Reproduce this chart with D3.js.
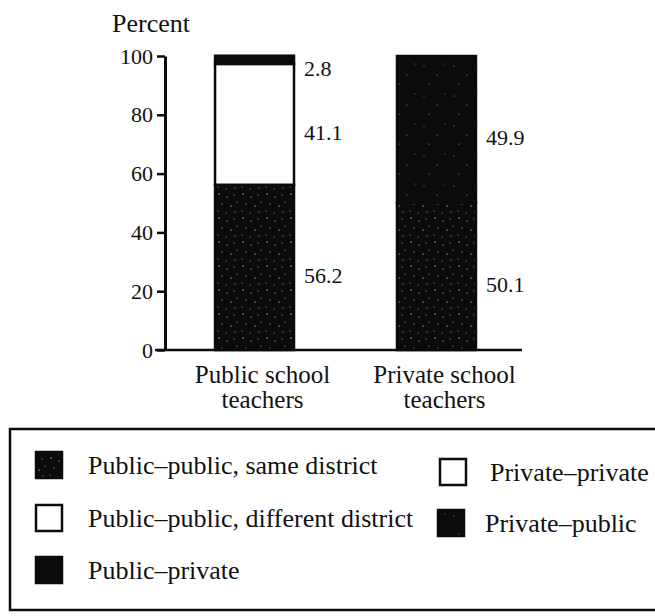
<!DOCTYPE html>
<html>
<head>
<meta charset="utf-8">
<script src="https://cdn.jsdelivr.net/npm/d3@7"></script>
<style>
  html, body { margin: 0; padding: 0; background: #fff; }
  svg { display: block; }
</style>
</head>
<body>
<svg id="chart" width="655" height="616"></svg>
<script>
// Teacher movers by type of move, percent of each teacher group
const categories = ["Public school teachers", "Private school teachers"];
const categoryLines = [["Public school", "teachers"], ["Private school", "teachers"]];
const seriesKeys = ["sameDistrict", "differentDistrict", "publicPrivate", "privatePrivate", "privatePublic"];
const seriesNames = [
  "Public\u2013public, same district",
  "Public\u2013public, different district",
  "Public\u2013private",
  "Private\u2013private",
  "Private\u2013public"
];
const sameDistrict      = [56.2, 0];
const differentDistrict = [41.1, 0];
const publicPrivate     = [2.8, 0];
const privatePrivate    = [0, 50.1];
const privatePublic     = [0, 49.9];
const yTicks = [0, 20, 40, 60, 80, 100];

const FONT = "'Liberation Serif', Tinos, 'Times New Roman', Times, 'DejaVu Serif', serif";

const seriesValues = { sameDistrict, differentDistrict, publicPrivate, privatePrivate, privatePublic };
const table = categories.map((c, i) => {
  const row = { category: c };
  seriesKeys.forEach(k => { row[k] = seriesValues[k][i]; });
  return row;
});

const svg = d3.select("#chart").style("font-family", FONT);
const defs = svg.append("defs");

// Dark print textures: heavy speckle and light speckle
function speckle(id, dots, size) {
  const p = defs.append("pattern").attr("id", id)
    .attr("patternUnits", "userSpaceOnUse").attr("width", size).attr("height", size);
  p.append("rect").attr("width", size).attr("height", size).attr("fill", "#0b0b0b");
  dots.forEach(([dx, dy, r, c]) => p.append("circle").attr("cx", dx).attr("cy", dy).attr("r", r).attr("fill", c));
}
speckle("heavy", [[3,2,0.8,"#9a9a9a"],[11,5,0.6,"#cfcfcf"],[18,3,0.7,"#7a7a7a"],[6,12,0.6,"#bdbdbd"],
  [15,14,0.8,"#8a8a8a"],[21,10,0.5,"#e0e0e0"],[2,19,0.6,"#a8a8a8"],[10,21,0.7,"#6d6d6d"],[19,20,0.6,"#cccccc"]], 24);
speckle("light", [[4,6,0.6,"#8c8c8c"],[17,15,0.5,"#b5b5b5"],[25,4,0.5,"#7a7a7a"],[9,24,0.6,"#a0a0a0"]], 30);

const barFill = {
  sameDistrict: "url(#heavy)", differentDistrict: "#ffffff", publicPrivate: "#0b0b0b",
  privatePrivate: "url(#heavy)", privatePublic: "url(#light)"
};
const keyFill = {
  sameDistrict: "url(#heavy)", differentDistrict: "#ffffff", publicPrivate: "#0b0b0b",
  privatePrivate: "#ffffff", privatePublic: "url(#light)"
};

const x = d3.scaleBand().domain(categories).range([165, 526]).paddingInner(0.566).paddingOuter(0.275);
const y = d3.scaleLinear().domain([0, 100]).range([350, 56]);

const stacked = d3.stack().keys(seriesKeys)(table);

function label(sel) {
  return sel.attr("font-family", FONT).attr("fill", "#111");
}

// Bars
const g = svg.append("g");
stacked.forEach(layer => {
  layer.forEach(d => {
    if (d[1] - d[0] <= 0) return;
    g.append("rect")
      .attr("x", x(d.data.category))
      .attr("y", y(d[1]))
      .attr("width", x.bandwidth())
      .attr("height", y(d[0]) - y(d[1]))
      .attr("fill", barFill[layer.key])
      .attr("stroke", "#0b0b0b").attr("stroke-width", 2.5);
  });
});

// Value labels beside each segment
stacked.forEach(layer => {
  layer.forEach(d => {
    const v = d[1] - d[0];
    if (v <= 0) return;
    svg.append("text").call(label)
      .attr("x", x(d.data.category) + x.bandwidth() + 10)
      .attr("y", (y(d[0]) + y(d[1])) / 2 + 16)
      .attr("font-size", 22)
      .text(d3.format(".1f")(v));
  });
});

// Y axis
const axis = svg.append("g").attr("transform", "translate(165,0)")
  .call(d3.axisLeft(y).tickValues(yTicks).tickFormat(d3.format("d")).tickSize(8).tickSizeOuter(0).tickPadding(4));
axis.attr("font-family", FONT);
axis.select(".domain").attr("stroke", "#0b0b0b").attr("stroke-width", 3);
axis.selectAll(".tick line").attr("stroke", "#0b0b0b").attr("stroke-width", 2.5);
axis.selectAll(".tick text").call(label).attr("font-size", 22);

// Baseline
svg.append("line").attr("x1", 155).attr("x2", 522).attr("y1", y(0)).attr("y2", y(0))
  .attr("stroke", "#0b0b0b").attr("stroke-width", 2.5);

svg.append("text").call(label).attr("x", 112).attr("y", 32).attr("font-size", 26).text("Percent");

// Category labels
categoryLines.forEach((lines, i) => {
  const cx = x(categories[i]) + x.bandwidth() / 2 + 8;
  lines.forEach((ln, j) => {
    svg.append("text").call(label).attr("x", cx).attr("y", 383 + j * 25)
      .attr("text-anchor", "middle").attr("font-size", 25).text(ln);
  });
});

// Legend
svg.append("rect").attr("x", 10).attr("y", 429).attr("width", 700).attr("height", 181)
  .attr("fill", "none").attr("stroke", "#0b0b0b").attr("stroke-width", 2.5);

const legendPos = [
  { sx: 36, sy: 452, tx: 88 },
  { sx: 36, sy: 505, tx: 88 },
  { sx: 36, sy: 557, tx: 88 },
  { sx: 440, sy: 459, tx: 490 },
  { sx: 438, sy: 510, tx: 485 }
];
seriesKeys.forEach((k, i) => {
  const p = legendPos[i];
  svg.append("rect").attr("x", p.sx).attr("y", p.sy).attr("width", 26).attr("height", 26)
    .attr("fill", keyFill[k]).attr("stroke", "#0b0b0b").attr("stroke-width", 2.5);
  svg.append("text").call(label).attr("x", p.tx).attr("y", p.sy + 22).attr("font-size", 26).text(seriesNames[i]);
});
</script>
</body>
</html>
